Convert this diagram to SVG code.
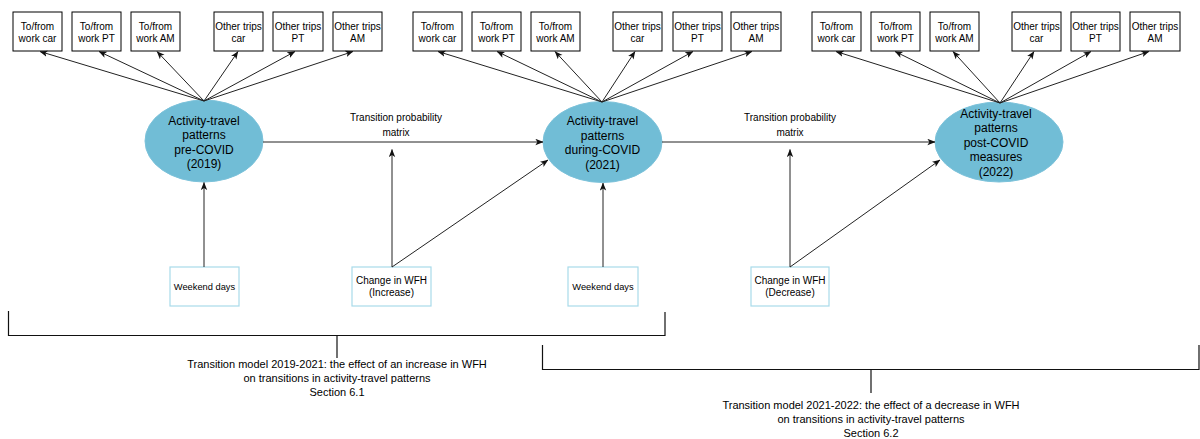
<svg xmlns="http://www.w3.org/2000/svg" width="1200" height="439" viewBox="0 0 1200 439">
  <style>
    .box { fill: #ffffff; stroke: #000000; stroke-width: 1; }
    .inbox { fill: #ffffff; stroke: #a8dbea; stroke-width: 1.2; }
    .state { fill: #71bdd6; stroke: #7cc2da; stroke-width: 1; }
    .t { font-family: "Liberation Sans", Arial, sans-serif; fill: #000000; text-anchor: middle; }
    .t10 { font-size: 10px; }
    .t9 { font-size: 9.3px; }
    .t12 { font-size: 12px; }
    .t11 { font-size: 11px; }
    .conn line, .conn polyline { stroke: #222222; stroke-width: 1; fill: none; }
    .brace { stroke: #111111; stroke-width: 1.2; fill: none; }
  </style>
  <defs>
    <marker id="arr" viewBox="0 0 10 8" refX="9.5" refY="4" markerWidth="8" markerHeight="7" orient="auto" markerUnits="userSpaceOnUse">
      <path d="M0,0 L10,4 L0,8 L2.5,4 z" fill="#111111"/>
    </marker>
  </defs>

  <rect width="1200" height="439" fill="#ffffff"/>

  <!-- Indicator boxes, period 2019 -->
  <g id="n2019_work_car"><rect class="box" x="13" y="12" width="49" height="39"/><text class="t t10" x="37.5" y="29.5">To/from</text><text class="t t10" x="37.5" y="41.5">work car</text></g>
  <g id="n2019_work_pt"><rect class="box" x="72" y="12" width="49" height="39"/><text class="t t10" x="96.5" y="29.5">To/from</text><text class="t t10" x="96.5" y="41.5">work PT</text></g>
  <g id="n2019_work_am"><rect class="box" x="131" y="12" width="49" height="39"/><text class="t t10" x="155.5" y="29.5">To/from</text><text class="t t10" x="155.5" y="41.5">work AM</text></g>
  <g id="n2019_other_car"><rect class="box" x="214" y="12" width="49" height="39"/><text class="t t10" x="238.5" y="29.5">Other trips</text><text class="t t10" x="238.5" y="41.5">car</text></g>
  <g id="n2019_other_pt"><rect class="box" x="273" y="12" width="50" height="39"/><text class="t t10" x="298" y="29.5">Other trips</text><text class="t t10" x="298" y="41.5">PT</text></g>
  <g id="n2019_other_am"><rect class="box" x="333" y="12" width="49" height="39"/><text class="t t10" x="357.5" y="29.5">Other trips</text><text class="t t10" x="357.5" y="41.5">AM</text></g>

  <!-- Indicator boxes, period 2021 -->
  <g id="n2021_work_car"><rect class="box" x="413" y="12" width="49" height="39"/><text class="t t10" x="437.5" y="29.5">To/from</text><text class="t t10" x="437.5" y="41.5">work car</text></g>
  <g id="n2021_work_pt"><rect class="box" x="472" y="12" width="49" height="39"/><text class="t t10" x="496.5" y="29.5">To/from</text><text class="t t10" x="496.5" y="41.5">work PT</text></g>
  <g id="n2021_work_am"><rect class="box" x="531" y="12" width="49" height="39"/><text class="t t10" x="555.5" y="29.5">To/from</text><text class="t t10" x="555.5" y="41.5">work AM</text></g>
  <g id="n2021_other_car"><rect class="box" x="613" y="12" width="49" height="39"/><text class="t t10" x="637.5" y="29.5">Other trips</text><text class="t t10" x="637.5" y="41.5">car</text></g>
  <g id="n2021_other_pt"><rect class="box" x="673" y="12" width="49" height="39"/><text class="t t10" x="697.5" y="29.5">Other trips</text><text class="t t10" x="697.5" y="41.5">PT</text></g>
  <g id="n2021_other_am"><rect class="box" x="731" y="12" width="50" height="39"/><text class="t t10" x="756" y="29.5">Other trips</text><text class="t t10" x="756" y="41.5">AM</text></g>

  <!-- Indicator boxes, period 2022 -->
  <g id="n2022_work_car"><rect class="box" x="812" y="12" width="49" height="39"/><text class="t t10" x="836.5" y="29.5">To/from</text><text class="t t10" x="836.5" y="41.5">work car</text></g>
  <g id="n2022_work_pt"><rect class="box" x="871" y="12" width="49" height="39"/><text class="t t10" x="895.5" y="29.5">To/from</text><text class="t t10" x="895.5" y="41.5">work PT</text></g>
  <g id="n2022_work_am"><rect class="box" x="930" y="12" width="49" height="39"/><text class="t t10" x="954.5" y="29.5">To/from</text><text class="t t10" x="954.5" y="41.5">work AM</text></g>
  <g id="n2022_other_car"><rect class="box" x="1012" y="12" width="49" height="39"/><text class="t t10" x="1036.5" y="29.5">Other trips</text><text class="t t10" x="1036.5" y="41.5">car</text></g>
  <g id="n2022_other_pt"><rect class="box" x="1071" y="12" width="49" height="39"/><text class="t t10" x="1095.5" y="29.5">Other trips</text><text class="t t10" x="1095.5" y="41.5">PT</text></g>
  <g id="n2022_other_am"><rect class="box" x="1130" y="12" width="50" height="39"/><text class="t t10" x="1155" y="29.5">Other trips</text><text class="t t10" x="1155" y="41.5">AM</text></g>

  <!-- Latent states -->
  <g id="state_2019">
    <ellipse class="state" cx="204" cy="141" rx="59" ry="41"/>
    <text class="t t12" x="204" y="124.5">Activity-travel</text>
    <text class="t t12" x="204" y="139">patterns</text>
    <text class="t t12" x="204" y="153.5">pre-COVID</text>
    <text class="t t12" x="204" y="168">(2019)</text>
  </g>
  <g id="state_2021">
    <ellipse class="state" cx="602.5" cy="142" rx="59.5" ry="40.5"/>
    <text class="t t12" x="602.5" y="125">Activity-travel</text>
    <text class="t t12" x="602.5" y="139.5">patterns</text>
    <text class="t t12" x="602.5" y="154">during-COVID</text>
    <text class="t t12" x="602.5" y="168.5">(2021)</text>
  </g>
  <g id="state_2022">
    <ellipse class="state" cx="999" cy="142" rx="64" ry="40"/>
    <text class="t t12" x="996" y="117.5">Activity-travel</text>
    <text class="t t12" x="996" y="132">patterns</text>
    <text class="t t12" x="996" y="146.5">post-COVID</text>
    <text class="t t12" x="996" y="161">measures</text>
    <text class="t t12" x="996" y="175.5">(2022)</text>
  </g>

  <!-- Covariates -->
  <g id="weekend_2019"><rect class="inbox" x="170" y="267" width="69" height="39"/><text class="t t9" x="204.5" y="290">Weekend days</text></g>
  <g id="wfh_increase"><rect class="inbox" x="352" y="267" width="79" height="39"/><text class="t t10" x="391.5" y="284">Change in WFH</text><text class="t t10" x="391.5" y="296">(Increase)</text></g>
  <g id="weekend_2021"><rect class="inbox" x="568" y="267" width="70" height="39"/><text class="t t9" x="603" y="290">Weekend days</text></g>
  <g id="wfh_decrease"><rect class="inbox" x="751" y="267" width="78" height="39"/><text class="t t10" x="790" y="284">Change in WFH</text><text class="t t10" x="790" y="296">(Decrease)</text></g>

  <!-- Transition labels -->
  <g id="tpm_1"><text class="t t10" x="396" y="121">Transition probability</text><text class="t t10" x="396" y="135.5">matrix</text></g>
  <g id="tpm_2"><text class="t t10" x="790" y="121">Transition probability</text><text class="t t10" x="790" y="135.5">matrix</text></g>

  <!-- Connectors -->
  <g id="connectors" class="conn">
    <line x1="204" y1="101" x2="40" y2="51.5" marker-end="url(#arr)"/>
    <line x1="204" y1="101" x2="99" y2="51.5" marker-end="url(#arr)"/>
    <line x1="204" y1="101" x2="157" y2="51.5" marker-end="url(#arr)"/>
    <line x1="204" y1="101" x2="238" y2="51.5" marker-end="url(#arr)"/>
    <line x1="204" y1="101" x2="295" y2="51.5" marker-end="url(#arr)"/>
    <line x1="204" y1="101" x2="353" y2="51.5" marker-end="url(#arr)"/>

    <line x1="602" y1="102" x2="438" y2="51.5" marker-end="url(#arr)"/>
    <line x1="602" y1="102" x2="497" y2="51.5" marker-end="url(#arr)"/>
    <line x1="602" y1="102" x2="555" y2="51.5" marker-end="url(#arr)"/>
    <line x1="602" y1="102" x2="635" y2="51.5" marker-end="url(#arr)"/>
    <line x1="602" y1="102" x2="693" y2="51.5" marker-end="url(#arr)"/>
    <line x1="602" y1="102" x2="752" y2="51.5" marker-end="url(#arr)"/>

    <line x1="1000" y1="103" x2="836" y2="51.5" marker-end="url(#arr)"/>
    <line x1="1000" y1="103" x2="895" y2="51.5" marker-end="url(#arr)"/>
    <line x1="1000" y1="103" x2="953" y2="51.5" marker-end="url(#arr)"/>
    <line x1="1000" y1="103" x2="1034" y2="51.5" marker-end="url(#arr)"/>
    <line x1="1000" y1="103" x2="1091" y2="51.5" marker-end="url(#arr)"/>
    <line x1="1000" y1="103" x2="1149" y2="51.5" marker-end="url(#arr)"/>

    <line x1="263" y1="142" x2="543" y2="142" marker-end="url(#arr)"/>
    <line x1="662" y1="142" x2="935" y2="142" marker-end="url(#arr)"/>

    <line x1="204" y1="267" x2="204" y2="182.5" marker-end="url(#arr)"/>
    <line x1="603" y1="267" x2="603" y2="183" marker-end="url(#arr)"/>

    <line x1="392" y1="267" x2="392" y2="149.5" marker-end="url(#arr)"/>
    <line x1="392" y1="267" x2="548" y2="160" marker-end="url(#arr)"/>
    <line x1="790" y1="267" x2="790" y2="149.5" marker-end="url(#arr)"/>
    <line x1="790" y1="267" x2="940" y2="160" marker-end="url(#arr)"/>
  </g>

  <!-- Model scope brackets -->
  <g id="bracket_2019_2021">
    <polyline class="brace" points="8.5,311 8.5,335.5 665,335.5 665,312"/>
    <line class="brace" x1="337" y1="335.5" x2="337" y2="358"/>
    <text class="t t11" x="337" y="367.5">Transition model 2019-2021: the effect of an increase in WFH</text>
    <text class="t t11" x="337" y="381.5">on transitions in activity-travel patterns</text>
    <text class="t t11" x="337" y="395.5">Section 6.1</text>
  </g>
  <g id="bracket_2021_2022">
    <polyline class="brace" points="542.5,345 542.5,369.5 1199,369.5 1199,345"/>
    <line class="brace" x1="871" y1="369.5" x2="871" y2="393"/>
    <text class="t t11" x="871" y="408.5">Transition model 2021-2022: the effect of a decrease in WFH</text>
    <text class="t t11" x="871" y="422.5">on transitions in activity-travel patterns</text>
    <text class="t t11" x="871" y="436.5">Section 6.2</text>
  </g>
</svg>
